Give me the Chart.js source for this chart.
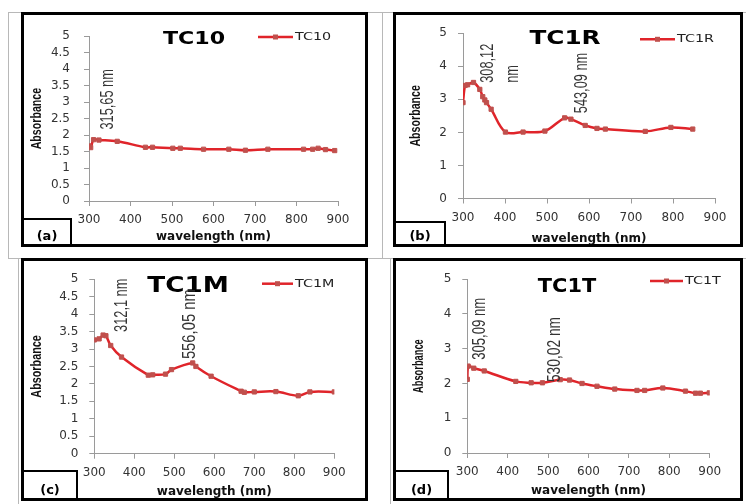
<!DOCTYPE html>
<html>
<head>
<meta charset="utf-8">
<script src="https://cdn.jsdelivr.net/npm/chart.js@4.4.1/dist/chart.umd.min.js"></script>
<style>
  body { margin: 0; background: #fff; }
  #page { position: relative; width: 746px; height: 504px; overflow: hidden; background: #fff; }
  .rule { position: absolute; background: #b8b8b8; }
  .panel { position: absolute; border: 3px solid #000; box-sizing: border-box; background: #fff; }
  .panel canvas { position: absolute; left: 0; top: 0; }
  .tag { position: absolute; left: 0; bottom: 0; box-sizing: border-box;
         border-top: 2px solid #000; border-right: 2px solid #000;
         font: bold 13px "DejaVu Sans"; color: #000;
         display: flex; align-items: flex-end; justify-content: center; padding-bottom: 1px; }
</style>
</head>
<body>
<div id="page">
  <!-- garis tabel tipis -->
  <div class="rule" style="left:8px;top:12px;width:1px;height:246px"></div>
  <div class="rule" style="left:382px;top:12px;width:1px;height:246px"></div>
  <div class="rule" style="left:8px;top:12px;width:738px;height:1px"></div>
  <div class="rule" style="left:8px;top:258px;width:738px;height:1px"></div>
  <div class="rule" style="left:18px;top:258px;width:1px;height:246px"></div>
  <div class="rule" style="left:390px;top:258px;width:1px;height:246px"></div>

  <div class="panel" style="left:21px;top:12px;width:347px;height:235px">
    <canvas id="chartA" width="341" height="229"></canvas>
    <div class="tag" style="width:48px;height:26px">(a)</div>
  </div>
  <div class="panel" style="left:393px;top:12px;width:350px;height:235px">
    <canvas id="chartB" width="344" height="229"></canvas>
    <div class="tag" style="width:50px;height:23px">(b)</div>
  </div>
  <div class="panel" style="left:21px;top:258px;width:347px;height:243px">
    <canvas id="chartC" width="341" height="237"></canvas>
    <div class="tag" style="width:54px;height:28px">(c)</div>
  </div>
  <div class="panel" style="left:393px;top:258px;width:350px;height:243px">
    <canvas id="chartD" width="344" height="237"></canvas>
    <div class="tag" style="width:53px;height:28px">(d)</div>
  </div>
</div>

<script>
// ==========================================
// DATA
// ==========================================
const xTicks = [300, 400, 500, 600, 700, 800, 900];
const yTicksHalf = [0, 0.5, 1, 1.5, 2, 2.5, 3, 3.5, 4, 4.5, 5];
const yTicksUnit = [0, 1, 2, 3, 4, 5];

// (a) TC10
const wlTC10  = [300, 304, 311, 324, 368, 436, 453, 502, 520, 576, 637, 677, 731, 817, 839, 852, 870, 892];
const absTC10 = [1.67, 1.62, 1.86, 1.85, 1.81, 1.63, 1.63, 1.60, 1.60, 1.57, 1.57, 1.54, 1.57, 1.57, 1.57, 1.60, 1.56, 1.53];

// (b) TC1R
const wlTC1R  = [300, 305, 311, 325, 340, 347, 352, 356, 367, 401, 443, 495, 542, 557, 591, 619, 639, 734, 795, 847];
const absTC1R = [2.90, 3.42, 3.44, 3.51, 3.30, 3.08, 2.98, 2.90, 2.70, 2.01, 2.01, 2.04, 2.44, 2.40, 2.21, 2.12, 2.10, 2.03, 2.15, 2.10];

// (c) TC1M
const wlTC1M  = [300, 312, 322, 329, 341, 368, 435, 446, 478, 493, 546, 554, 592, 667, 675, 700, 754, 810, 839, 900];
const absTC1M = [3.26, 3.29, 3.40, 3.38, 3.10, 2.77, 2.25, 2.26, 2.28, 2.41, 2.60, 2.50, 2.22, 1.79, 1.76, 1.77, 1.78, 1.66, 1.77, 1.77];

// (d) TC1T
const wlTC1T  = [300, 302, 316, 342, 420, 458, 486, 530, 553, 584, 621, 665, 720, 739, 784, 840, 865, 877, 899];
const absTC1T = [2.12, 2.50, 2.44, 2.36, 2.06, 2.02, 2.02, 2.11, 2.10, 2.00, 1.92, 1.84, 1.80, 1.80, 1.87, 1.78, 1.72, 1.72, 1.73];

// Label puncak (teks vertikal), titik awal dalam satuan data
const notesTC10 = [{ text: ['315,65 nm'], x: 346, y: 2.17 }];
const notesTC1R = [{ text: ['308,12', 'nm'], x: 359, y: 3.5 }, { text: ['543,09 nm'], x: 584, y: 2.58 }];
const notesTC1M = [{ text: ['312,1 nm'], x: 368, y: 3.49 }, { text: ['556,05 nm'], x: 539, y: 2.71, squeeze: 0.8 }];
const notesTC1T = [{ text: ['305,09 nm'], x: 331, y: 2.68, squeeze: 0.71 }, { text: ['530,02 nm'], x: 516, y: 2.04, squeeze: 0.745 }];

const LINE_RED = '#e0242a';
const MARK_RED = '#c0504d';

Chart.defaults.font.family = '"DejaVu Sans"';

// Judul, legenda, label sumbu Y dan label puncak digambar di atas grafik
const panelDecor = {
    id: 'panelDecor',
    afterDatasetsDraw(chart, args, o) {
        const ctx = chart.ctx;
        const area = chart.chartArea;
        ctx.save();
        ctx.textBaseline = 'middle';

        // judul (huruf tebal, sedikit melebar seperti aslinya)
        ctx.save();
        ctx.translate(o.titleX, o.titleY);
        ctx.scale(o.titleStretch, 1);
        ctx.fillStyle = '#000';
        ctx.font = `bold ${o.titleSize}px "DejaVu Sans"`;
        ctx.textAlign = 'center';
        ctx.fillText(o.title, 0, 0);
        ctx.restore();

        // label sumbu Y (huruf sempit, vertikal)
        ctx.save();
        ctx.translate(o.yTitleX, (area.top + area.bottom) / 2);
        ctx.rotate(-Math.PI / 2);
        ctx.scale(o.yTitleSqueeze, 1);
        ctx.fillStyle = '#111';
        ctx.textAlign = 'center';
        ctx.font = 'bold 15px "Liberation Sans"';
        ctx.fillText('Absorbance', 0, 0);
        ctx.restore();

        // legenda
        const lg = o.legend;
        ctx.strokeStyle = LINE_RED;
        ctx.lineWidth = 2.5;
        ctx.beginPath();
        ctx.moveTo(lg.x1, lg.y);
        ctx.lineTo(lg.x2, lg.y);
        ctx.stroke();
        ctx.fillStyle = MARK_RED;
        ctx.fillRect((lg.x1 + lg.x2) / 2 - 2.5, lg.y - 2.5, 5, 5);
        ctx.save();
        ctx.translate(lg.x2 + 2, lg.y);
        ctx.scale(1.3, 1);
        ctx.fillStyle = '#222';
        ctx.font = '11px "DejaVu Sans"';
        ctx.textAlign = 'left';
        ctx.fillText(o.title, 0, 0);
        ctx.restore();

        // label puncak
        const xs = chart.scales.x, ys = chart.scales.y;
        ctx.fillStyle = '#333';
        ctx.textAlign = 'left';
        o.notes.forEach(n => {
            ctx.save();
            ctx.font = '18.5px "Liberation Sans"';
            ctx.translate(xs.getPixelForValue(n.x), ys.getPixelForValue(n.y));
            ctx.rotate(-Math.PI / 2);
            ctx.scale(n.squeeze || 0.69, 1);
            n.text.forEach((t, i) => ctx.fillText(t, 0, i * 25));
            ctx.restore();
        });
        ctx.restore();
    }
};

function makeChart(id, wl, abs, yTicks, title, notes, g) {
    const padB = Math.max(g.h - g.xTitleY - 5.4, 0);
    new Chart(document.getElementById(id), {
        type: 'line',
        data: {
            datasets: [{
                label: title,
                data: wl.map((x, i) => ({ x: x, y: abs[i] })),
                borderColor: LINE_RED,
                borderWidth: 2.5,
                tension: 0.35,
                pointStyle: 'rect',
                pointRadius: 3,
                pointBorderWidth: 1,
                pointBackgroundColor: MARK_RED,
                pointBorderColor: MARK_RED
            }]
        },
        options: {
            responsive: false,
            animation: false,
            devicePixelRatio: 1,
            layout: { padding: { left: 0, top: g.t, right: g.w - g.r, bottom: padB } },
            plugins: {
                legend: { display: false },
                tooltip: { enabled: false },
                panelDecor: {
                    title: title, titleX: g.titleX, titleY: g.titleY, titleSize: g.titleSize,
                    titleStretch: g.titleStretch, legend: g.legend, notes: notes,
                    yTitleX: g.yTitleX, yTitleSqueeze: g.yTitleSqueeze
                }
            },
            scales: {
                x: {
                    type: 'linear', min: 300, max: 900,
                    afterBuildTicks: s => { s.ticks = xTicks.map(v => ({ value: v })); },
                    afterFit: s => { s.height = (g.h - padB) - g.b; },
                    grid: { drawOnChartArea: false, tickLength: 5, color: '#9a9a9a' },
                    border: { color: '#9a9a9a', width: 1 },
                    ticks: { color: '#333', font: { size: 12 }, padding: 7, maxRotation: 0, autoSkip: false,
                             callback: v => String(v) },
                    title: { display: true, text: 'wavelength (nm)', color: '#111',
                             font: { size: 12, weight: 'bold', lineHeight: 0.9 }, padding: 0 }
                },
                y: {
                    min: 0, max: 5,
                    afterBuildTicks: s => { s.ticks = yTicks.map(v => ({ value: v })); },
                    afterFit: s => { s.width = g.l; },
                    grid: { drawOnChartArea: false, tickLength: 5, color: '#9a9a9a' },
                    border: { color: '#9a9a9a', width: 1 },
                    ticks: { color: '#333', font: { size: 12 }, padding: g.yPad, autoSkip: false,
                             callback: v => String(v) }
                }
            }
        },
        plugins: [panelDecor]
    });
}

makeChart('chartA', wlTC10, absTC10, yTicksHalf, 'TC10', notesTC10, {
    w: 341, h: 229, l: 65, r: 314, t: 11, b: 186, yTitleX: 13.3, yTitleSqueeze: 0.71,
    xTitleY: 222.3, yPad: 14,
    titleX: 170, titleY: 24, titleSize: 18, titleStretch: 1.23, legend: { x1: 234, x2: 269, y: 22 }
});
makeChart('chartB', wlTC1R, absTC1R, yTicksUnit, 'TC1R', notesTC1R, {
    w: 344, h: 229, l: 67, r: 319, t: 11.7, b: 183.5, yTitleX: 20.3, yTitleSqueeze: 0.71,
    xTitleY: 225, yPad: 11,
    titleX: 169, titleY: 24.3, titleSize: 19, titleStretch: 1.3, legend: { x1: 244, x2: 279, y: 24.3 }
});
makeChart('chartC', wlTC1M, absTC1M, yTicksHalf, 'TC1M', notesTC1M, {
    w: 341, h: 237, l: 70.3, r: 310.3, t: 11, b: 192.7, yTitleX: 13.3, yTitleSqueeze: 0.72,
    xTitleY: 231, yPad: 11,
    titleX: 164, titleY: 26, titleSize: 20.5, titleStretch: 1.28, legend: { x1: 238, x2: 269, y: 22.7 }
});
makeChart('chartD', wlTC1T, absTC1T, yTicksUnit, 'TC1T', notesTC1T, {
    w: 344, h: 237, l: 71.3, r: 313.7, t: 10, b: 192, yTitleX: 22.7, yTitleSqueeze: 0.62,
    xTitleY: 230, yPad: 11,
    titleX: 171, titleY: 26, titleSize: 19, titleStretch: 1.1, legend: { x1: 254, x2: 287, y: 20 }
});
</script>
</body>
</html>
